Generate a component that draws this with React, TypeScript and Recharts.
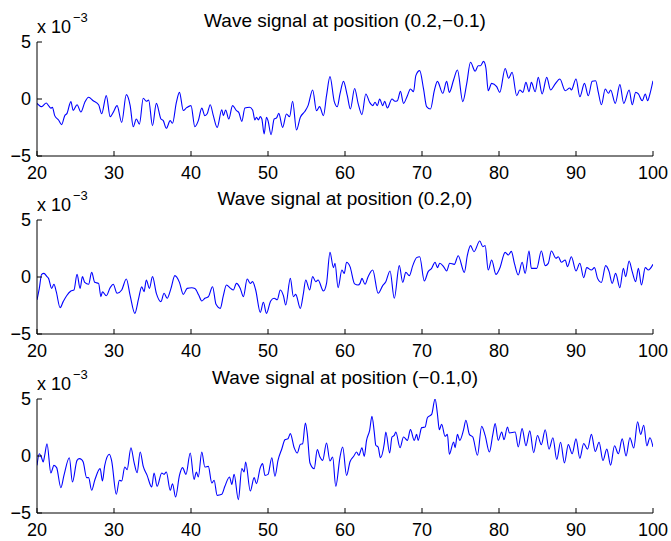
import React from 'react';
import { LineChart, Line, XAxis, YAxis } from 'recharts';

// Values (y in units of 1e-3).
const x1 = [
  20.0, 20.6, 20.8, 21.2, 21.5, 21.8, 22.0, 22.3, 22.8, 23.2, 23.6, 23.9, 24.4, 24.7, 25.2, 25.7, 26.2, 26.7, 27.3, 28.0,
  28.4, 29.0, 29.5, 29.9, 30.4, 31.0, 31.6, 32.1, 32.5, 32.9, 33.3, 33.8, 34.2, 34.5, 35.0, 35.5, 36.1, 36.4, 36.8, 37.3,
  37.6, 38.1, 38.5, 39.0, 39.4, 40.0, 40.5, 40.95, 41.4, 41.8, 42.1, 42.5, 42.9, 43.4, 44.0, 44.2, 44.5, 44.9, 45.4, 45.9,
  46.2, 46.6, 47.0, 47.6, 48.0, 48.3, 48.5, 48.75, 49.0, 49.2, 49.5, 49.8, 50.0, 50.4, 50.8, 51.1, 51.4, 51.9, 52.4, 52.8,
  53.2, 53.7, 54.2, 54.8, 55.2, 55.8, 56.3, 56.7, 57.2, 57.6, 58.05, 58.6, 59.0, 59.35, 59.8, 60.3, 60.7, 61.25, 61.7, 62.2,
  62.7, 63.2, 63.6, 63.9, 64.2, 64.5, 64.9, 65.15, 65.5, 66.1, 66.5, 66.8, 67.2, 67.6, 68.1, 68.5, 68.9, 69.2, 69.7, 70.2,
  70.6, 71.1, 71.6, 72.0, 72.7, 73.2, 73.55, 74.1, 74.6, 75.3, 75.8, 76.3, 76.9, 77.3, 77.6, 78.0, 78.3, 78.6, 79.05, 79.7,
  80.1, 80.8, 81.25, 81.7, 82.3, 82.7, 83.1, 83.5, 83.9, 84.2, 84.7, 85.1, 85.6, 86.2, 86.7, 87.3, 87.9, 88.6, 89.2, 89.4,
  90.0, 90.5, 91.1, 91.6, 92.1, 92.55, 92.9, 93.3, 93.8, 94.2, 94.5, 95.1, 95.7, 96.2, 96.9, 97.3, 97.75, 98.1, 98.6, 99.0,
  99.3, 99.6, 100.0,
];
const y1 = [
  -0.38, -0.67, -0.58, -0.35, -0.58, -0.8, -0.73, -1.46, -1.84, -2.25, -1.46, -1.26, -0.23, -1.0, -0.5, -1.14, -0.3, 0.15, -0.15, -0.5,
  -1.3, 0.3, -1.55, -1.17, -0.58, -2.05, 0.38, -0.58, -2.43, -1.75, -2.2, 0.06, -0.2, -0.1, -2.34, -0.38, -1.75, -1.9, -2.57, -1.9,
  -2.13, -0.3, 0.58, -1.0, -0.78, -0.58, -2.43, -1.9, -0.8, -1.46, -1.3, -0.5, -1.46, -2.49, -0.94, -1.46, -0.96, -1.75, -0.58, -1.02,
  -1.17, -1.96, -0.79, -0.73, -0.96, -1.84, -1.6, -1.84, -1.55, -1.75, -3.07, -1.6, -1.9, -3.13, -1.75, -1.67, -1.26, -2.49, -1.32, -1.55,
  -0.2, -2.72, -1.6, -1.08, -0.58, 0.79, -1.02, -0.67, -1.46, 0.29, 1.96, -0.2, -0.67, 0.44, 1.55, 0.29, -0.88, 0.92, -0.38, -1.37,
  0.44, -0.29, -0.58, -0.29, -0.58, 0, -0.58, -0.2, -0.79, 0, -0.2, -0.15, 0.67, -0.38, 0.29, 0.88, 0.64, 2.05, 2.49, 0.88,
  -0.67, -0.88, 0.73, 1.55, 0.5, 1.55, 0.58, 1.67, 2.54, -0.23, 1.32, 3.22, 2.43, 2.92, 2.92, 3.3, 2.72, 0.73, 1.37, 1.08,
  0.58, 2.68, 1.82, 2.34, 0.29, 0.79, 0.58, 1.46, 0.64, 1.46, 0.64, 1.9, 0.44, 1.9, 0.79, 1.32, 1.75, 0.73, 0.96, 0.79,
  1.75, 0.2, 1.37, 0.29, 1.55, 1.6, 0.58, -0.5, 0.88, 0.5, 0.79, -0.38, 1.26, -0.38, 0.79, -0.5, 0.58, 0.44, -0.15, 0.44,
  -0.15, 0.44, 1.6,
];

const x2 = [
  20.0, 20.3, 20.6, 20.9, 21.3, 21.5, 21.9, 22.2, 22.5, 23.0, 23.4, 23.85, 24.4, 24.8, 25.2, 25.6, 25.9, 26.2, 26.7, 27.1,
  27.5, 28.0, 28.3, 28.5, 29.0, 29.5, 29.9, 30.4, 31.0, 31.6, 32.1, 32.7, 33.2, 33.6, 33.9, 34.2, 34.6, 35.0, 35.5, 36.1,
  36.5, 36.9, 37.4, 37.9, 38.5, 39.0, 39.5, 40.1, 40.5, 41.0, 41.4, 41.8, 42.25, 42.8, 43.25, 43.8, 44.2, 44.6, 45.15, 45.5,
  45.9, 46.4, 46.8, 47.3, 47.7, 48.0, 48.4, 49.0, 49.4, 49.8, 50.35, 50.8, 51.2, 51.6, 52.0, 52.3, 52.9, 53.3, 53.6, 54.2,
  54.6, 54.9, 55.4, 55.8, 56.2, 56.5, 57.2, 57.6, 58.05, 58.5, 58.7, 59.1, 59.6, 59.9, 60.2, 60.65, 61.25, 61.7, 61.95, 62.2,
  62.6, 63.0, 63.6, 64.3, 64.9, 65.3, 65.85, 66.4, 67.05, 67.5, 67.9, 68.35, 68.8, 69.3, 69.7, 70.3, 70.8, 71.25, 71.7, 72.0,
  72.3, 72.8, 73.2, 73.6, 74.2, 74.7, 75.5, 75.9, 76.3, 76.75, 77.5, 77.9, 78.2, 78.6, 79.05, 79.6, 80.1, 80.8, 81.2, 81.6,
  82.0, 82.5, 83.0, 83.4, 83.9, 84.2, 84.9, 85.5, 86.0, 86.4, 86.8, 87.4, 87.7, 88.1, 88.6, 88.9, 89.4, 90.0, 90.5, 91.0,
  91.4, 92.0, 92.4, 92.8, 93.3, 93.85, 94.3, 94.7, 95.15, 95.7, 96.15, 96.45, 96.9, 97.3, 97.75, 98.1, 98.5, 99.0, 99.4, 100.0,
];
const y2 = [
  -2.0, -1.0, 0.23, 0.32, 0.03, -0.12, -1.0, -0.64, -1.29, -2.69, -2.16, -1.64, -1.23, -1.14, 0.23, -1.0, 0.03, -0.47, -0.64, 0.41,
  -0.47, -0.56, -1.73, -1.29, -1.64, -0.94, -0.64, -1.43, -1.14, -0.18, -1.64, -3.19, -1.87, -0.85, -1.29, -0.26, -1.0, 0.03, -1.43, -2.16,
  -1.43, -1.87, -1.0, 0.12, -0.47, -1.52, -1.0, -0.94, -1.0, -1.58, -2.1, -1.87, -1.73, -0.85, -2.4, -2.75, -1.64, -0.7, -1.0, -1.14,
  -0.56, -1.0, -1.73, -0.18, -0.56, -0.41, -1.14, -3.1, -2.22, -3.19, -2.1, -1.87, -2.0, -1.14, -1.64, -2.46, -0.12, -1.73, -1.52, -2.75,
  -1.43, -0.26, -1.14, 0.03, -0.41, -0.26, -1.23, -0.56, 2.16, 0.82, 1.2, -0.94, 0.61, 0.32, 1.29, 0.91, -0.6, -0.7, -0.56, -0.12,
  -0.64, 0.03, 0.61, -1.43, -0.76, -0.41, 0.53, -1.87, 1.0, -0.47, 0.41, 0.12, 1.0, 1.7, 1.78, -0.35, 0.47, 0.76, 1.29, 0.82,
  1.2, 0.91, 0.53, 1.2, 1.11, 1.87, 0.41, 1.93, 2.75, 2.22, 3.16, 2.66, 2.75, 0.61, 1.49, 0.23, 0.76, 2.16, 1.93, 2.25,
  1.2, 0.18, 1.29, 0.32, 2.28, 0.76, 0.76, 2.28, 1.0, 1.2, 2.28, 1.64, 1.78, 1.29, 1.49, 0.91, 1.78, 0.53, 1.2, -0.06,
  0.82, 0.61, 0.82, -0.12, -0.47, 1.0, 0.47, -0.56, 0.32, -0.94, 0.76, 0.03, 1.4, 0.47, -0.41, 0.76, -0.7, 0.82, 0.61, 1.11,
];

const x3 = [
  20.0, 20.3, 20.6, 20.8, 21.0, 21.3, 21.8, 22.2, 22.55, 23.1, 23.5, 24.2, 24.6, 25.2, 25.5, 25.8, 26.0, 26.45, 26.7, 27.1,
  27.5, 28.2, 28.5, 28.8, 29.4, 29.7, 30.3, 30.7, 31.0, 31.4, 31.7, 32.2, 32.6, 33.0, 33.4, 33.8, 34.3, 34.9, 35.2, 35.6,
  36.2, 36.5, 36.8, 37.3, 37.6, 38.0, 38.5, 38.9, 39.35, 39.9, 40.4, 40.7, 40.95, 41.4, 41.8, 42.25, 42.7, 43.0, 43.4, 44.0,
  44.4, 45.0, 45.3, 45.6, 46.15, 46.6, 46.9, 47.1, 47.7, 48.2, 48.5, 49.0, 49.3, 49.6, 50.0, 50.5, 50.9, 51.3, 51.8, 52.2,
  52.6, 52.9, 53.4, 53.8, 54.2, 54.5, 54.85, 55.1, 55.45, 56.0, 56.4, 56.75, 57.1, 57.6, 58.05, 58.4, 58.8, 59.35, 59.7, 60.2,
  60.65, 61.15, 61.5, 61.8, 62.2, 62.5, 62.8, 63.2, 63.5, 63.8, 64.0, 64.3, 64.6, 65.1, 65.3, 65.8, 66.1, 66.4, 66.6, 67.15,
  67.6, 68.1, 68.5, 69.0, 69.3, 69.5, 69.96, 70.4, 70.7, 71.25, 71.7, 72.0, 72.25, 72.55, 73.0, 73.3, 73.55, 74.1, 74.3, 74.6,
  74.9, 75.4, 75.7, 76.15, 76.6, 77.2, 77.75, 78.2, 78.75, 79.2, 79.5, 79.9, 80.35, 80.65, 81.1, 81.35, 82.1, 82.5, 83.0, 83.5,
  84.0, 84.5, 85.0, 85.5, 86.0, 86.5, 87.0, 87.5, 88.0, 88.5, 89.0, 89.5, 90.0, 90.5, 91.0, 91.5, 92.0, 92.5, 93.0, 93.5,
  94.0, 94.5, 95.0, 95.5, 96.0, 96.5, 97.0, 97.5, 98.0, 98.4, 98.8, 99.2, 99.6, 100.0,
];
const y3 = [
  -0.82, 0.2, -0.15, -0.53, 0.06, 1.08, -1.49, -0.82, -1.02, -2.78, -1.7, -0.15, -2.28, -0.38, -0.23, -0.32, -0.53, -1.9, -1.9, -3.01,
  -2.13, -1.11, -2.19, -0.82, 0.15, -0.44, -3.36, -2.13, -2.19, -0.96, -1.2, 0.73, -0.53, -1.46, 0.35, -0.91, -1.7, -2.72, -1.49, -2.66,
  -1.49, -1.61, -1.4, -3.01, -2.43, -3.6, -1.7, -1.02, -1.61, 0.26, -2.06, -1.4, -1.84, 0.35, -0.96, -0.91, -2.37, -2.13, -3.45, -3.36,
  -2.66, -1.84, -2.49, -1.61, -3.83, -1.11, -1.4, -0.53, -3.07, -1.9, -2.43, -1.02, -0.67, -1.7, -1.61, -0.15, -1.78, -0.38, 0.64, 1.43,
  1.52, 1.96, 0.73, 0.26, 1.02, 1.08, 2.89, 1.96, -0.61, -1.11, 0.56, -0.09, -0.38, 1.14, -0.44, -0.09, -2.66, -0.09, 0.79, -1.7,
  -0.5, 0.0, 0.35, 0.06, 0.73, -0.03, 1.37, 2.25, 3.48, 2.1, 0.94, 0.79, -0.15, 1.08, 2.1, 0.26, 1.67, 1.81, 2.1, 0.73,
  1.67, 1.37, 2.31, 1.37, 1.9, 1.37, 2.49, 2.54, 3.36, 3.65, 5.0, 3.71, 2.31, 2.78, 1.73, 1.9, 0.15, 1.23, 0.73, 1.9,
  1.37, 2.31, 3.13, 1.9, 1.67, 0.06, 2.6, 1.81, 0.35, 1.9, 2.84, 1.37, 2.1, 1.43, 2.54, 2.02, 2.1, 0.8, 2.4, 0.9,
  2.2, 0.3, 1.8, 1.0, 2.3, 0.6, 1.6, -0.3, 1.2, -0.6, 1.0, 0.2, 1.5, -0.2, 1.1, 0.6, 1.9, 0.4, 1.2, -0.4,
  0.6, -0.8, 0.9, 0.2, 1.5, 0.0, 1.6, 0.7, 3.0, 1.9, 2.7, 0.9, 1.6, 0.8,
];

const titles = [
  'Wave signal at position (0.2,\u22120.1)',
  'Wave signal at position (0.2,0)',
  'Wave signal at position (\u22120.1,0)',
];
const xTicks = [20, 30, 40, 50, 60, 70, 80, 90, 100];
const yTicks = [-5, 0, 5];

const series = [
  { xs: x1, ys: y1 },
  { xs: x2, ys: y2 },
  { xs: x3, ys: y3 },
];

const font = '"Liberation Sans", Arial, Helvetica, sans-serif';
const fmt = (v: number) => (v < 0 ? `\u2212${Math.abs(v)}` : String(v));

function Panel({ idx, top }: { idx: number; top: number }) {
  const { xs, ys } = series[idx];
  const data = xs.map((x, i) => ({ x, y: ys[i] }));
  const tickStyle = { fill: '#000', fontSize: 18, fontFamily: font };
  return (
    <div style={{ position: 'absolute', left: 0, top, width: 671, height: 200 }}>
      {/* plot box: x 37..653, y top+42..top+156 */}
      <LineChart width={671} height={200} data={data} margin={{ top: 42, right: 18, bottom: 20, left: 0 }}>
        <XAxis xAxisId="b" dataKey="x" type="number" domain={[20, 100]} ticks={xTicks} allowDataOverflow
          height={24} stroke="#000" tickSize={-5} tickMargin={15} tick={tickStyle} />
        <XAxis xAxisId="t" dataKey="x" type="number" orientation="top" domain={[20, 100]} ticks={xTicks} allowDataOverflow
          height={0} stroke="#000" tickSize={-5} tick={false} />
        <YAxis yAxisId="l" type="number" domain={[-5, 5]} ticks={yTicks} allowDataOverflow width={37}
          stroke="#000" tickSize={-5} tickMargin={11} tick={tickStyle} tickFormatter={fmt} />
        <YAxis yAxisId="r" type="number" orientation="right" domain={[-5, 5]} ticks={yTicks} allowDataOverflow width={0}
          stroke="#000" tickSize={-5} tick={false} />
        <Line xAxisId="b" yAxisId="l" type="monotone" dataKey="y" stroke="#0000ff" strokeWidth={1.1}
          dot={false} isAnimationActive={false} />
      </LineChart>
    </div>
  );
}

export default function App() {
  const tops = [0, 178, 357];
  return (
    <div style={{ position: 'absolute', left: 0, top: 0, width: 671, height: 541, background: '#fff', overflow: 'hidden' }}>
      {tops.map((t, i) => (
        <Panel key={i} idx={i} top={t} />
      ))}
      <svg width={671} height={541} style={{ position: 'absolute', left: 0, top: 0, pointerEvents: 'none' }}>
        {tops.map((t, i) => (
          <g key={i} fontFamily={font} fill="#000">
            <text x={345} y={t + 27} fontSize={19} textAnchor="middle">{titles[i]}</text>
            <text x={37} y={t + 33} fontSize={18}>x 10</text>
            <text x={73} y={t + 22} fontSize={13}>{'\u22123'}</text>
          </g>
        ))}
      </svg>
    </div>
  );
}
